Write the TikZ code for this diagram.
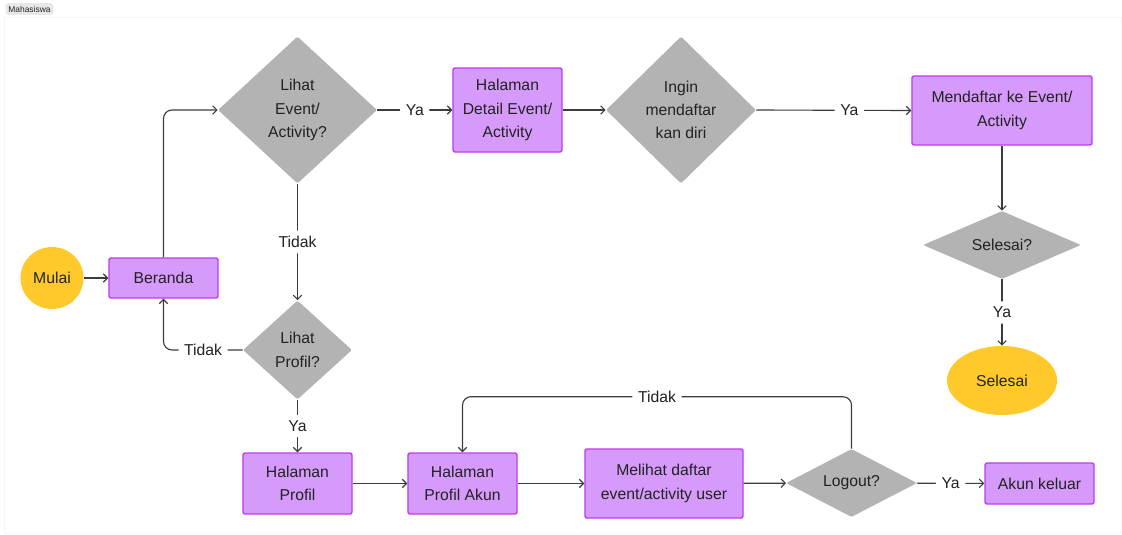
\documentclass[tikz,border=0pt]{standalone}
\usepackage{fontspec}
\setmainfont{Liberation Sans}
\usepackage{xcolor}
\usetikzlibrary{arrows.meta,shapes.geometric}
\definecolor{flowyellow}{HTML}{FFC92C}
\definecolor{flowpurple}{HTML}{D69BFA}
\definecolor{flowedge}{HTML}{BE3CEE}
\definecolor{flowgrey}{HTML}{B3B3B3}
\definecolor{flowline}{HTML}{3C3C3C}
\definecolor{flowtext}{HTML}{222222}

\begin{document}
\begin{tikzpicture}[x=0.025cm,y=-0.025cm,>={Straight Barb[length=3pt,width=6pt]},
  every node/.style={font=\fontsize{11.2}{16.6}\selectfont,text=flowtext,align=center},
  proc/.style={draw=flowedge,line width=1pt,fill=flowpurple,rounded corners=1.5pt,inner sep=0pt},
  decision/.style={diamond,fill=flowgrey,rounded corners=1pt,inner sep=0pt},
  terminal/.style={ellipse,fill=flowyellow,inner sep=0pt},
  lbl/.style={fill=white,inner sep=4pt},
  flow/.style={->,flowline,line width=0.8pt,rounded corners=6pt}]
  \useasboundingbox (0,0) rectangle (1122,534);
  \draw[gray!8] (4,17) rectangle (1121,533);
  \node[fill=gray!18,rounded corners=2pt,inner sep=2pt,font=\fontsize{6}{7}\selectfont] (tag) at (29.5,9) {Mahasiswa};

  \node[terminal,minimum width=1.575cm,minimum height=1.55cm] (mulai) at (52,278) {Mulai};
  \node[proc,minimum width=2.725cm,minimum height=1cm] (beranda) at (163.5,278) {Beranda};
  \node[decision,minimum width=3.975cm,minimum height=3.675cm] (lihatevent) at (297.5,110) {Lihat\\Event/\\Activity?};
  \node[proc,minimum width=2.725cm,minimum height=2.1cm] (detail) at (507.5,110) {Halaman\\Detail Event/\\Activity};
  \node[decision,minimum width=3.75cm,minimum height=3.675cm] (ingin) at (681,110) {Ingin\\mendaftar\\kan diri};
  \node[proc,minimum width=4.5cm,minimum height=1.725cm] (daftar) at (1002,110.5) {Mendaftar ke Event/\\Activity};
  \node[decision,shape aspect=2,minimum width=3.95cm,minimum height=1.7cm] (selesaiq) at (1002,245) {Selesai?};
  \node[terminal,minimum width=2.75cm,minimum height=1.725cm] (selesai) at (1002,380.5) {Selesai};
  \node[decision,minimum width=2.725cm,minimum height=2.475cm] (lihatprofil) at (297.5,350) {Lihat\\Profil?};
  \node[proc,minimum width=2.725cm,minimum height=1.525cm] (profil) at (297.5,483.5) {Halaman\\Profil};
  \node[proc,minimum width=2.725cm,minimum height=1.525cm] (akun) at (462.5,483.5) {Halaman\\Profil Akun};
  \node[proc,minimum width=3.95cm,minimum height=1.725cm] (melihat) at (664,483.5) {Melihat daftar\\event/activity user};
  \node[decision,shape aspect=2,minimum width=3.275cm,minimum height=1.7cm] (logout) at (851.5,483) {Logout?};
  \node[proc,minimum width=2.725cm,minimum height=1.025cm] (keluar) at (1039.5,483.5) {Akun keluar};

  \draw[flow] (mulai) -- (beranda);
  \draw[flow] (beranda.north) |- (lihatevent.west);
  \draw[flow] (lihatevent.east) -- node[lbl]{Ya} (detail.west);
  \draw[flow] (detail) -- (ingin);
  \draw[flow] (ingin.east) -- node[lbl,pos=0.6]{Ya} (daftar.west);
  \draw[flow] (daftar) -- (selesaiq);
  \draw[flow] (selesaiq) -- node[lbl]{Ya} (selesai);
  \draw[flow] (lihatevent) -- node[lbl]{Tidak} (lihatprofil);
  \draw[flow] (lihatprofil.west) -- node[lbl]{Tidak} (beranda.south |- lihatprofil.west) -- (beranda.south);
  \draw[flow] (lihatprofil) -- node[lbl]{Ya} (profil);
  \draw[flow] (profil) -- (akun);
  \draw[flow] (akun) -- (melihat);
  \draw[flow] (melihat) -- (logout);
  \draw[flow] (logout) -- node[lbl]{Ya} (keluar);
  \draw[flow] (logout.north) -- ++(0,-52) -| node[lbl,pos=0.25]{Tidak} (akun.north);
\end{tikzpicture}
\end{document}
